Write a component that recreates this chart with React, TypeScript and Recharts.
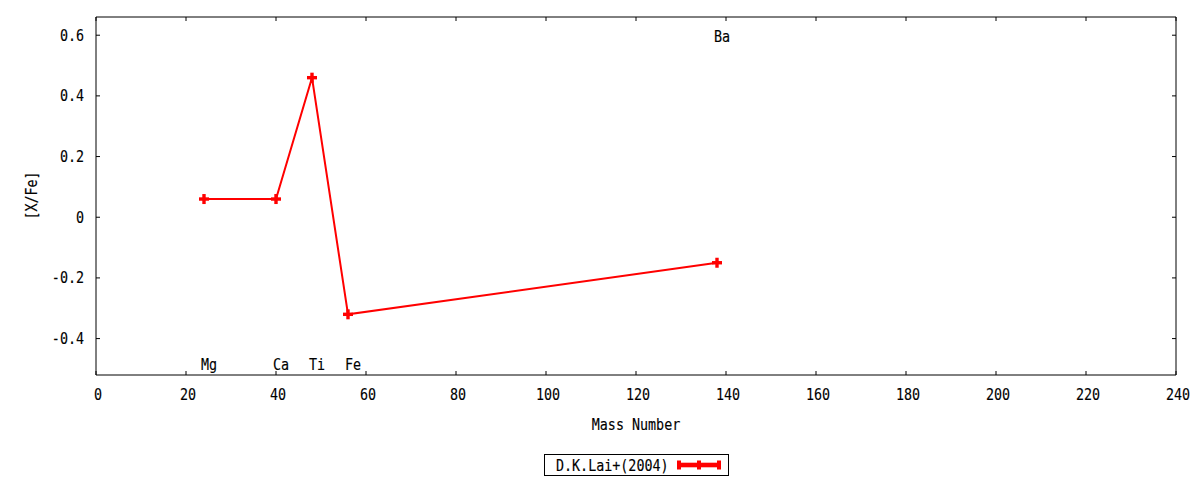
import React from "react";
import { ComposedChart, Line, Scatter, XAxis, YAxis } from "recharts";

// abundance ratios by mass number
const masses = [24, 40, 48, 56, 138];
const xfeValues = [0.06, 0.06, 0.46, -0.32, -0.15];

// element labels
const elements = ["Mg", "Ca", "Ti", "Fe", "Ba"];
const labelMasses = [24, 40, 48, 56, 138];
const labelLevels = [-0.48, -0.48, -0.48, -0.48, 0.6];

const xTicks = [0, 20, 40, 60, 80, 100, 120, 140, 160, 180, 200, 220, 240];
const yTicks = [-0.4, -0.2, 0, 0.2, 0.4, 0.6];
const seriesName = "D.K.Lai+(2004)";

const FONT = "'DejaVu Sans Mono', monospace";
const RED = "#ff0000";

const data = masses.map((m, i) => ({ mass: m, xfe: xfeValues[i] }));
const labelRows = elements.map((name, i) => ({
  name,
  mass: labelMasses[i],
  level: labelLevels[i],
}));

// narrow mono text, like the gnuplot png font
function Txt({ x, y, anchor = "start", rotate, children }: any) {
  const t = `translate(${x},${y})${rotate ? ` rotate(${rotate})` : ""} scale(0.81,1)`;
  return (
    <text
      transform={t}
      textAnchor={anchor}
      fontFamily={FONT}
      fontSize={16.5}
      fill="#000"
      stroke="#000"
      strokeWidth={0.15}
    >
      {children}
    </text>
  );
}

const fmtY = (v: number) => (v === 0 ? "0" : v.toFixed(1));

const XTick = (props: any) => (
  <Txt x={props.x + 2} y={props.y} anchor="middle">
    {props.payload.value}
  </Txt>
);

const YTick = (props: any) => (
  <Txt x={props.x} y={props.y + 5.5} anchor="end">
    {fmtY(props.payload.value)}
  </Txt>
);

const NoTick = () => <g />;

const renderPlus = (props: any) => {
  const { cx, cy, index } = props;
  if (cx == null || cy == null) return <g key={`p${index}`} />;
  return (
    <g key={`p${index}`}>
      <rect x={cx - 5} y={cy - 1.7} width={10} height={3.4} fill={RED} />
      <rect x={cx - 1.7} y={cy - 5} width={3.4} height={10} fill={RED} />
    </g>
  );
};

const renderLabel = (props: any) => (
  <Txt x={props.cx - 3} y={props.cy + 6.8}>
    {props.payload.name}
  </Txt>
);

function LegendBox() {
  return (
    <svg
      width={186}
      height={23}
      style={{ position: "absolute", left: 544, top: 454, overflow: "visible" }}
    >
      <rect x={0.5} y={0.5} width={184} height={21} fill="#fff" stroke="#000" strokeWidth={1} />
      <Txt x={12} y={16.5}>
        {seriesName}
      </Txt>
      <rect x={133} y={8.7} width={44} height={4.6} fill={RED} />
      <rect x={133} y={6.5} width={4} height={9} fill={RED} />
      <rect x={153} y={6.5} width={4} height={9} fill={RED} />
      <rect x={173} y={6.5} width={4} height={9} fill={RED} />
    </svg>
  );
}

export default function App() {
  const axisStroke = { stroke: "#000", strokeWidth: 1 };
  return (
    <div style={{ position: "relative", width: 1200, height: 480, background: "#fff" }}>
      <style>{"body{margin:0;background:#fff}"}</style>
      <ComposedChart
        width={1200}
        height={480}
        data={data}
        margin={{ top: 16, right: 23, bottom: 75, left: 0 }}
      >
        <XAxis
          dataKey="mass"
          type="number"
          domain={[0, 240]}
          ticks={xTicks}
          interval={0}
          allowDataOverflow
          height={30}
          tickSize={-4}
          tickMargin={29}
          axisLine={axisStroke}
          tickLine={axisStroke}
          tick={XTick}
          label={{
            content: ({ viewBox }: any) => (
              <Txt x={viewBox.x + viewBox.width / 2} y={viewBox.y + 55} anchor="middle">
                Mass Number
              </Txt>
            ),
          }}
        />
        <XAxis
          xAxisId="top"
          orientation="top"
          type="number"
          dataKey="mass"
          domain={[0, 240]}
          ticks={xTicks}
          interval={0}
          allowDataOverflow
          height={1}
          tickSize={-4}
          tickMargin={0}
          axisLine={axisStroke}
          tickLine={axisStroke}
          tick={NoTick}
        />
        <YAxis
          type="number"
          domain={[-0.52, 0.66]}
          ticks={yTicks}
          interval={0}
          allowDataOverflow
          width={96}
          tickSize={-4}
          tickMargin={16}
          axisLine={axisStroke}
          tickLine={axisStroke}
          tick={YTick}
          label={{
            content: ({ viewBox }: any) => (
              <Txt x={37} y={viewBox.y + viewBox.height / 2 - 0.5} anchor="middle" rotate={-90}>
                [X/Fe]
              </Txt>
            ),
          }}
        />
        <YAxis
          yAxisId="right"
          orientation="right"
          type="number"
          dataKey="xfe"
          domain={[-0.52, 0.66]}
          ticks={yTicks}
          interval={0}
          allowDataOverflow
          width={1}
          tickSize={-4}
          tickMargin={0}
          axisLine={axisStroke}
          tickLine={axisStroke}
          tick={NoTick}
        />
        <Line
          dataKey="xfe"
          name={seriesName}
          stroke={RED}
          strokeWidth={2}
          dot={renderPlus}
          activeDot={false}
          isAnimationActive={false}
        />
        <Scatter
          data={labelRows}
          dataKey="level"
          shape={renderLabel}
          isAnimationActive={false}
        />
      </ComposedChart>
      <LegendBox />
    </div>
  );
}
